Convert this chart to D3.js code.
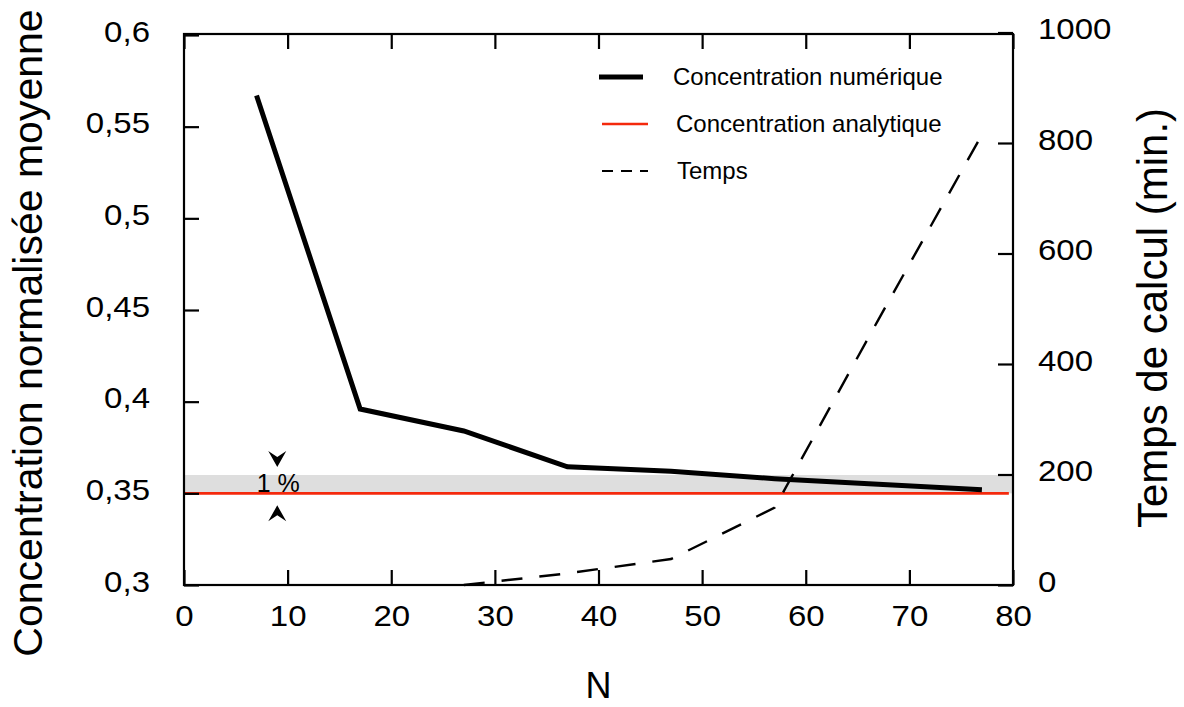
<!DOCTYPE html>
<html>
<head>
<meta charset="utf-8">
<script src="https://cdn.jsdelivr.net/npm/d3@7"></script>
<style>
  html, body { margin: 0; padding: 0; background: #fff; }
  svg text { font-family: "Liberation Sans", Arial, Helvetica, sans-serif; fill: #000; }
</style>
</head>
<body>
<svg id="chart" width="1184" height="707"></svg>
<script>
// Number of cells N
const nValues = [7, 17, 27, 37, 47, 57, 67, 77];
// Mean normalised concentration (numerical solution)
const numericConc = [0.567, 0.396, 0.384, 0.3645, 0.362, 0.358, 0.355, 0.352];
// Computation time in minutes
const timeN = [27, 37, 47, 57, 67, 77];
const timeMin = [0, 21, 47, 140, 480, 815];
// Analytical concentration and the 1 % band above it
const analyticConc = 0.35;
const bandTop = 0.36;

const xTicks = [0, 10, 20, 30, 40, 50, 60, 70, 80];
const yLeftTicks = [0.3, 0.35, 0.4, 0.45, 0.5, 0.55, 0.6];
const yRightTicks = [0, 200, 400, 600, 800, 1000];

const legendLabels = ["Concentration numérique", "Concentration analytique", "Temps"];

const svg = d3.select("#chart");
const plotLeft = 184, plotRight = 1013, plotTop = 34, plotBottom = 585;

const x = d3.scaleLinear().domain([0, 80]).range([plotLeft, plotRight]);
const yL = d3.scaleLinear().domain([0.3, 0.6]).range([plotBottom, 35]);
const yR = d3.scaleLinear().domain([0, 1000]).range([plotBottom, 32.5]);

const fmtComma = d => d3.format("~g")(d).replace(".", ",");

// widen a text element horizontally while keeping its anchor
function widen(sel, factor) {
  sel.each(function () {
    const w = this.getComputedTextLength();
    d3.select(this).attr("textLength", w * factor).attr("lengthAdjust", "spacingAndGlyphs");
  });
}

// 1 % band
svg.append("rect")
  .attr("x", x(0)).attr("width", x(80) - x(0))
  .attr("y", yL(bandTop)).attr("height", yL(analyticConc) - yL(bandTop))
  .attr("fill", "#dedede");

// analytical concentration
svg.append("line")
  .attr("x1", x(0)).attr("x2", x(79.6))
  .attr("y1", yL(analyticConc)).attr("y2", yL(analyticConc))
  .attr("stroke", "#f4290c").attr("stroke-width", 2.6);

// computation time (right axis)
svg.append("path")
  .datum(timeN.map((n, i) => [n, timeMin[i]]))
  .attr("fill", "none").attr("stroke", "#000").attr("stroke-width", 2.4)
  .attr("stroke-dasharray", "21,17")
  .attr("d", d3.line().x(d => x(d[0])).y(d => yR(d[1])));

// numerical concentration
svg.append("path")
  .datum(nValues.map((n, i) => [n, numericConc[i]]))
  .attr("fill", "none").attr("stroke", "#000").attr("stroke-width", 5)
  .attr("stroke-linejoin", "miter")
  .attr("d", d3.line().x(d => x(d[0])).y(d => yL(d[1])));

// frame
svg.append("rect")
  .attr("x", plotLeft).attr("y", plotTop)
  .attr("width", plotRight - plotLeft).attr("height", plotBottom - plotTop)
  .attr("fill", "none").attr("stroke", "#000").attr("stroke-width", 2.2);

const tickLen = 15;
const tickFont = 30;

// bottom axis
const gB = svg.append("g").attr("transform", `translate(0,${plotBottom})`)
  .call(d3.axisBottom(x).tickValues(xTicks).tickSize(-tickLen).tickFormat(d3.format("d")));
// top ticks
const gT = svg.append("g").attr("transform", `translate(0,${plotTop})`)
  .call(d3.axisTop(x).tickValues(xTicks).tickSize(-tickLen).tickFormat(""));
// left axis
const gL = svg.append("g").attr("transform", `translate(${plotLeft},0)`)
  .call(d3.axisLeft(yL).tickValues(yLeftTicks).tickSize(-tickLen).tickPadding(34).tickFormat(fmtComma));
// right axis
const gR = svg.append("g").attr("transform", `translate(${plotRight},0)`)
  .call(d3.axisRight(yR).tickValues(yRightTicks).tickSize(-tickLen).tickPadding(25).tickFormat(d3.format("d")));

[gB, gT, gL, gR].forEach(g => {
  g.select(".domain").remove();
  g.selectAll(".tick line").attr("stroke", "#000").attr("stroke-width", 2.2);
  g.selectAll(".tick text").attr("font-size", tickFont)
    .attr("font-family", "Liberation Sans, Arial, sans-serif").attr("fill", "#000");
});
gB.selectAll(".tick text").attr("dy", 0).attr("y", 41);
gL.selectAll(".tick text").attr("dy", "0.2em");
gR.selectAll(".tick text").attr("dy", "0.2em");
[gB, gL, gR].forEach(g => widen(g.selectAll(".tick text"), 1.1));

// axis titles
svg.append("text")
  .attr("transform", "translate(42,333) rotate(-90)")
  .attr("text-anchor", "middle").attr("font-size", 41)
  .text("Concentration normalisée moyenne");
svg.append("text")
  .attr("transform", "translate(1167,318) rotate(-90)")
  .attr("text-anchor", "middle").attr("font-size", 42)
  .text("Temps de calcul (min.)");
svg.append("text")
  .attr("x", x(40)).attr("y", 698)
  .attr("text-anchor", "middle").attr("font-size", 36)
  .text("N");

// legend
const legY = [77, 124, 171];
const legStyles = [
  { stroke: "#000", width: 5, dash: null, x1: 599, x2: 643 },
  { stroke: "#f4290c", width: 2.4, dash: null, x1: 602, x2: 648 },
  { stroke: "#000", width: 2.2, dash: "11,8", x1: 602, x2: 648 }
];
const legTextX = [673, 676, 677];
legendLabels.forEach((lab, i) => {
  const s = legStyles[i];
  svg.append("line")
    .attr("x1", s.x1).attr("x2", s.x2).attr("y1", legY[i]).attr("y2", legY[i])
    .attr("stroke", s.stroke).attr("stroke-width", s.width)
    .attr("stroke-dasharray", s.dash);
  svg.append("text")
    .attr("x", legTextX[i]).attr("y", legY[i]).attr("dy", "0.35em")
    .attr("font-size", 24).text(lab);
});

// 1 % annotation with arrowheads pointing at the band edges
const arrowX = x(9);
function arrowHead(tipY, dir) {
  // dir = +1 points down, -1 points up
  const h = 16, w = 9, notch = 6;
  const p = d3.path();
  p.moveTo(arrowX, tipY);
  p.lineTo(arrowX - w, tipY - dir * h);
  p.lineTo(arrowX, tipY - dir * (h - notch));
  p.lineTo(arrowX + w, tipY - dir * h);
  p.closePath();
  return p.toString();
}
svg.append("path").attr("d", arrowHead(yL(bandTop) - 8, 1)).attr("fill", "#000");
svg.append("path").attr("d", arrowHead(yL(analyticConc) + 12, -1)).attr("fill", "#000");
svg.append("text")
  .attr("x", arrowX + 1).attr("y", yL(analyticConc) - 1)
  .attr("text-anchor", "middle").attr("font-size", 25)
  .text("1 %");
</script>
</body>
</html>
